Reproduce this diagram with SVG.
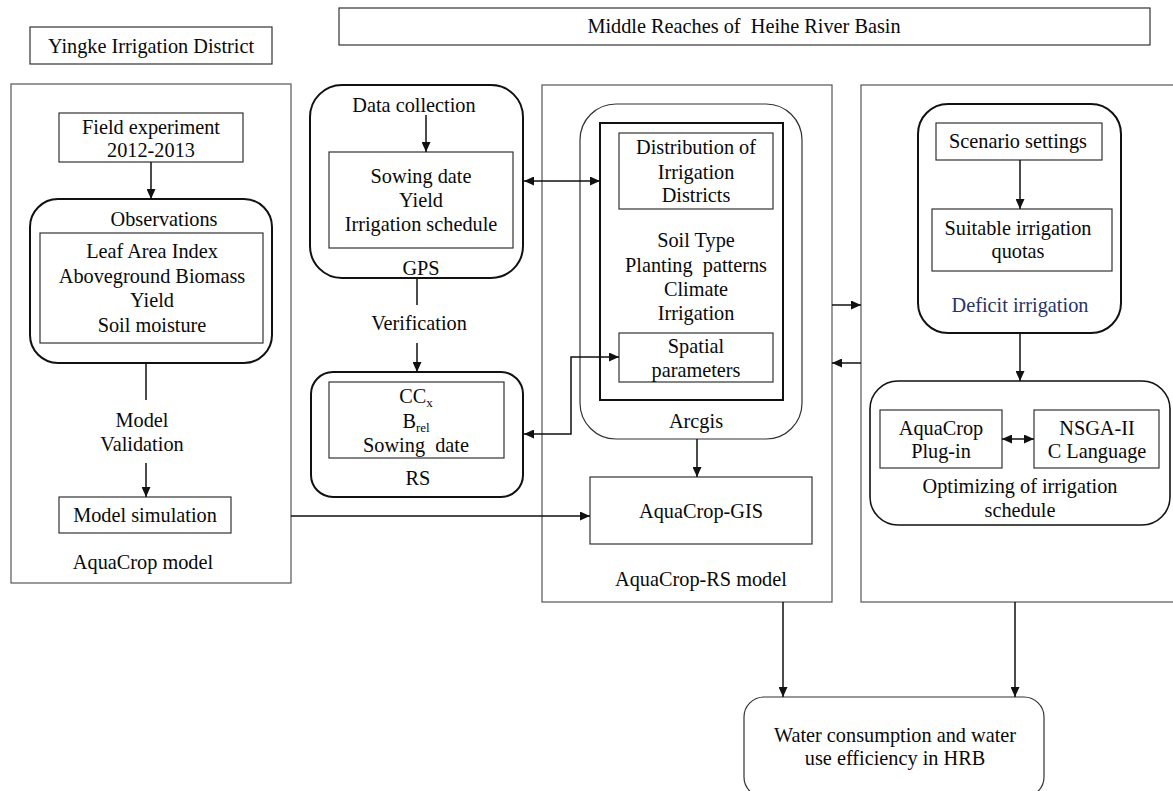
<svg xmlns="http://www.w3.org/2000/svg" width="1173" height="791" viewBox="0 0 1173 791">
<style>
text{font-family:"Liberation Serif","Times New Roman",serif;font-size:20.3px;fill:#0a0a0a;text-anchor:middle;white-space:pre}
.panel{fill:#fff;stroke:#555;stroke-width:1.2}
.box{fill:#fff;stroke:#333;stroke-width:1.2}
.grp{fill:none;stroke:#111;stroke-width:2}
.thin{fill:none;stroke:#333;stroke-width:1.2}
.con{fill:none;stroke:#111;stroke-width:1.5}
.sub{font-size:13px}
</style>
<defs>
<marker id="ah" markerUnits="userSpaceOnUse" markerWidth="10" markerHeight="9" refX="10" refY="4.5" orient="auto-start-reverse">
<path d="M0,0 L10,4.5 L0,9 z" fill="#111"/>
</marker>
</defs>
<rect width="1173" height="791" fill="#fff"/>

<g id="title-yingke">
<rect class="box" x="30" y="27" width="242" height="37"/>
<text x="151" y="53">Yingke Irrigation District</text>
</g>
<g id="title-middle">
<rect class="box" x="339" y="8" width="811" height="37"/>
<text x="744" y="33" xml:space="preserve">Middle Reaches of  Heihe River Basin</text>
</g>

<g id="panel-aquacrop">
<rect class="panel" x="11" y="84" width="280" height="499"/>
<text x="143" y="569">AquaCrop model</text>
</g>
<g id="panel-aquacrop-rs">
<rect class="panel" x="542" y="85" width="290" height="517"/>
<text x="701" y="586">AquaCrop-RS model</text>
</g>
<g id="panel-right">
<rect class="panel" x="861" y="85" width="330" height="517"/>
</g>

<g id="field-experiment">
<rect class="box" x="59" y="113" width="184" height="49"/>
<text x="151" y="134">Field experiment</text>
<text x="151" y="157">2012-2013</text>
</g>
<g id="observations">
<rect class="grp" x="30" y="199" width="242" height="164" rx="28"/>
<text x="164" y="226">Observations</text>
<rect class="box" x="40" y="233" width="223" height="110"/>
<text x="152" y="258">Leaf Area Index</text>
<text x="152" y="283">Aboveground Biomass</text>
<text x="152" y="307">Yield</text>
<text x="152" y="332">Soil moisture</text>
</g>
<g id="validation-label">
<text x="142" y="427">Model</text>
<text x="142" y="451">Validation</text>
</g>
<g id="model-simulation">
<rect class="box" x="59" y="497" width="172" height="36"/>
<text x="145" y="522">Model simulation</text>
</g>

<g id="gps">
<rect class="grp" x="310" y="85" width="213" height="193" rx="32"/>
<text x="414" y="112">Data collection</text>
<rect class="box" x="329" y="152" width="184" height="96"/>
<text x="421" y="183">Sowing date</text>
<text x="421" y="207">Yield</text>
<text x="421" y="231">Irrigation schedule</text>
<text x="421" y="275">GPS</text>
</g>
<g id="verification-label">
<text x="419" y="330">Verification</text>
</g>
<g id="rs">
<rect class="grp" x="311" y="372" width="212" height="125" rx="22"/>
<rect class="box" x="329" y="382" width="175" height="76"/>
<text x="416" y="403">CC<tspan class="sub" dy="4">x</tspan></text>
<text x="416" y="428">B<tspan class="sub" dy="4">rel</tspan></text>
<text x="416" y="452" xml:space="preserve">Sowing  date</text>
<text x="418" y="485">RS</text>
</g>

<g id="arcgis">
<rect class="thin" x="580" y="104" width="222" height="335" rx="36"/>
<rect fill="none" stroke="#111" stroke-width="2" x="600" y="123" width="183" height="277"/>
<text x="696" y="428">Arcgis</text>
<rect class="box" x="619" y="133" width="154" height="76"/>
<text x="696" y="154">Distribution of</text>
<text x="696" y="179">Irrigation</text>
<text x="696" y="202">Districts</text>
<text x="696" y="247">Soil Type</text>
<text x="696" y="272" xml:space="preserve">Planting  patterns</text>
<text x="696" y="296">Climate</text>
<text x="696" y="320">Irrigation</text>
<rect class="box" x="619" y="333" width="154" height="49"/>
<text x="696" y="353">Spatial</text>
<text x="696" y="377">parameters</text>
</g>
<g id="aquacrop-gis">
<rect class="box" x="590" y="477" width="222" height="67"/>
<text x="701" y="518">AquaCrop-GIS</text>
</g>

<g id="deficit-irrigation">
<rect class="grp" x="918" y="104" width="203" height="229" rx="30"/>
<rect class="box" x="936" y="123" width="166" height="37"/>
<text x="1018" y="148">Scenario settings</text>
<rect class="box" x="932" y="209" width="180" height="62"/>
<text x="1018" y="235">Suitable irrigation</text>
<text x="1018" y="258">quotas</text>
<text x="1020" y="312" style="fill:#26336a">Deficit irrigation</text>
</g>
<g id="optimizing">
<rect fill="none" stroke="#111" stroke-width="1.6" x="870" y="381" width="300" height="144" rx="28"/>
<rect class="box" x="880" y="410" width="122" height="58"/>
<text x="941" y="435">AquaCrop</text>
<text x="941" y="458">Plug-in</text>
<rect class="box" x="1034" y="410" width="125" height="58"/>
<text x="1097" y="435">NSGA-II</text>
<text x="1097" y="458">C Language</text>
<text x="1020" y="493">Optimizing of irrigation</text>
<text x="1020" y="517">schedule</text>
</g>

<g id="water-consumption">
<rect class="box" x="744" y="697" width="300" height="100" rx="20"/>
<text x="895" y="742">Water consumption and water</text>
<text x="895" y="765">use efficiency in HRB</text>
</g>

<g id="connectors">
<path class="con" d="M151,162 V199" marker-end="url(#ah)"/>
<path class="con" d="M146,363 V400"/>
<path class="con" d="M146,463 V497" marker-end="url(#ah)"/>
<path class="con" d="M291,516 H590" marker-end="url(#ah)"/>
<path class="con" d="M426,115 V152" marker-end="url(#ah)"/>
<path class="con" d="M417,278 V305"/>
<path class="con" d="M417,343 V372" marker-end="url(#ah)"/>
<path class="con" d="M524,181 H600" marker-start="url(#ah)" marker-end="url(#ah)"/>
<path class="con" d="M524,434 H571 V357 H619" marker-start="url(#ah)" marker-end="url(#ah)"/>
<path class="con" d="M697,439 V477" marker-end="url(#ah)"/>
<path class="con" d="M832,305 H861" marker-end="url(#ah)"/>
<path class="con" d="M861,363 H832" marker-end="url(#ah)"/>
<path class="con" d="M1020,160 V209" marker-end="url(#ah)"/>
<path class="con" d="M1020,333 V381" marker-end="url(#ah)"/>
<path class="con" d="M1002,439 H1034" marker-start="url(#ah)" marker-end="url(#ah)"/>
<path class="con" d="M783,602 V697" marker-end="url(#ah)"/>
<path class="con" d="M1015,602 V697" marker-end="url(#ah)"/>
</g>
</svg>
